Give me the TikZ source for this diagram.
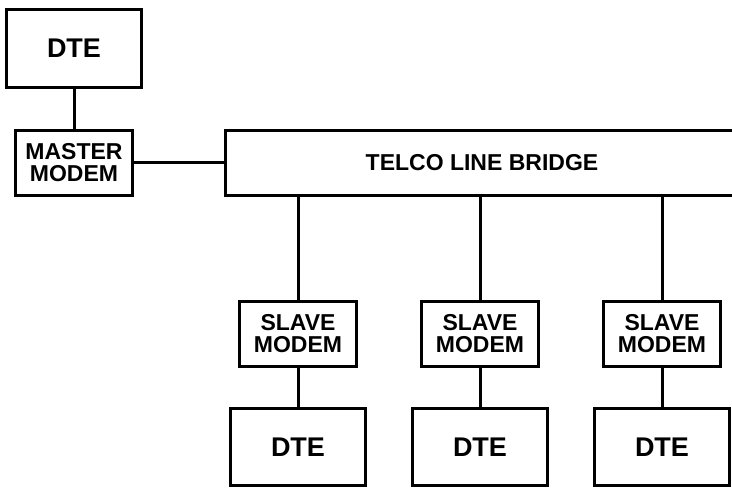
\documentclass[tikz,border=0pt]{standalone}
\usepackage{fontspec}
\setmainfont{Liberation Sans}
\usetikzlibrary{positioning}

\begin{document}
\begin{tikzpicture}[x=1pt,y=-1pt,line width=3pt,
    dtebox/.style={draw,minimum width=135pt,minimum height=78pt,font=\fontsize{27}{27}\selectfont\bfseries},
    modembox/.style={draw,minimum width=117pt,minimum height=65pt,align=center,font=\fontsize{23}{22}\selectfont\bfseries}]
    \useasboundingbox (0,0) rectangle (732,488);
    \clip (0,0) rectangle (732,488);

    \node[dtebox] (dtemaster) at (74,48.5) {DTE};
    \node[modembox] (master) at (74,162.5) {MASTER\\MODEM};
    \node[modembox,minimum width=513pt] (bridge) at (482,162.5) {TELCO LINE BRIDGE};

    \node[modembox] (slavea) at (298,334) {SLAVE\\MODEM};
    \node[modembox] (slaveb) at (480,334) {SLAVE\\MODEM};
    \node[modembox] (slavec) at (662,334) {SLAVE\\MODEM};
    \node[dtebox,minimum height=77pt] (dtea) at (298,447) {DTE};
    \node[dtebox,minimum height=77pt] (dteb) at (480,447) {DTE};
    \node[dtebox,minimum height=77pt] (dtec) at (662,447) {DTE};

    \draw (dtemaster) -- (master);
    \draw (master) -- (bridge);
    \draw (bridge.south -| slavea) -- (slavea);
    \draw (bridge.south -| slaveb) -- (slaveb);
    \draw (bridge.south -| slavec) -- (slavec);
    \draw (slavea) -- (dtea);
    \draw (slaveb) -- (dteb);
    \draw (slavec) -- (dtec);
\end{tikzpicture}
\end{document}
